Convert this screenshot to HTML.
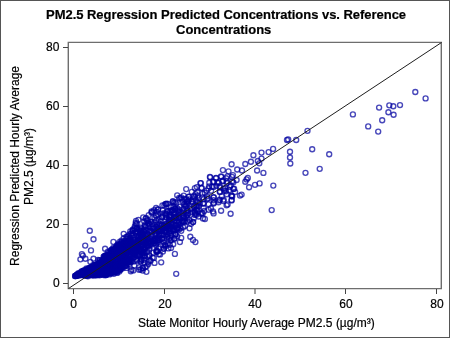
<!DOCTYPE html>
<html><head><meta charset="utf-8"><style>
html,body{margin:0;padding:0;background:#fff;}
body{width:450px;height:338px;overflow:hidden;position:relative;font-family:"Liberation Sans",sans-serif;}
.t{position:absolute;white-space:nowrap;color:#000;will-change:transform;-webkit-text-stroke:0.2px #000;}
</style></head><body>
<svg width="450" height="338" viewBox="0 0 450 338" style="position:absolute;left:0;top:0">
<rect x="0.5" y="0.5" width="449" height="337" fill="#fff" stroke="#555" stroke-width="1"/>
<path d="M68.3 42.4H441.3V288.6H68.3Z" fill="none" stroke="#6e6e6e" stroke-width="1.4"/>
<path d="M63 47.5H68M63 106.5H68M63 165.5H68M63 224.5H68M63 283.5H68" stroke="#444" stroke-width="1"/>
<path d="M73.5 289V294M164.5 289V294M255 289V294M345.5 289V294M436.5 289V294" stroke="#444" stroke-width="1"/>
<!--PTS--><g fill="none" stroke="#0000a0" stroke-width="1.35" stroke-opacity="0.72"><circle cx="75.1" cy="276.0" r="2.5"/><circle cx="75.1" cy="276.0" r="2.5"/><circle cx="75.9" cy="276.0" r="2.5"/><circle cx="76.8" cy="275.5" r="2.5"/><circle cx="76.5" cy="275.5" r="2.5"/><circle cx="76.5" cy="275.5" r="2.5"/><circle cx="76.2" cy="275.5" r="2.5"/><circle cx="77.5" cy="274.8" r="2.5"/><circle cx="77.1" cy="275.4" r="2.5"/><circle cx="77.4" cy="274.6" r="2.5"/><circle cx="77.7" cy="274.7" r="2.5"/><circle cx="77.9" cy="274.7" r="2.5"/><circle cx="77.0" cy="274.7" r="2.5"/><circle cx="78.2" cy="275.5" r="2.5"/><circle cx="78.5" cy="274.9" r="2.5"/><circle cx="78.1" cy="273.5" r="2.5"/><circle cx="78.8" cy="274.7" r="2.5"/><circle cx="78.3" cy="274.1" r="2.5"/><circle cx="79.1" cy="274.9" r="2.5"/><circle cx="79.2" cy="273.1" r="2.5"/><circle cx="79.6" cy="275.3" r="2.5"/><circle cx="80.3" cy="274.7" r="2.5"/><circle cx="80.5" cy="275.1" r="2.5"/><circle cx="80.2" cy="273.4" r="2.5"/><circle cx="81.4" cy="272.8" r="2.5"/><circle cx="81.8" cy="274.6" r="2.5"/><circle cx="81.5" cy="274.3" r="2.5"/><circle cx="81.7" cy="274.8" r="2.5"/><circle cx="81.9" cy="272.5" r="2.5"/><circle cx="81.6" cy="272.5" r="2.5"/><circle cx="81.4" cy="274.8" r="2.5"/><circle cx="81.4" cy="271.4" r="2.5"/><circle cx="82.0" cy="271.3" r="2.5"/><circle cx="82.5" cy="271.8" r="2.5"/><circle cx="82.6" cy="272.4" r="2.5"/><circle cx="82.0" cy="271.9" r="2.5"/><circle cx="82.6" cy="274.1" r="2.5"/><circle cx="82.3" cy="274.1" r="2.5"/><circle cx="83.6" cy="275.4" r="2.5"/><circle cx="83.9" cy="274.2" r="2.5"/><circle cx="83.1" cy="274.7" r="2.5"/><circle cx="83.7" cy="271.6" r="2.5"/><circle cx="83.5" cy="271.2" r="2.5"/><circle cx="83.8" cy="270.6" r="2.5"/><circle cx="83.8" cy="270.5" r="2.5"/><circle cx="84.7" cy="271.9" r="2.5"/><circle cx="84.8" cy="272.6" r="2.5"/><circle cx="84.6" cy="273.9" r="2.5"/><circle cx="84.5" cy="271.8" r="2.5"/><circle cx="85.0" cy="270.9" r="2.5"/><circle cx="84.3" cy="273.3" r="2.5"/><circle cx="84.0" cy="271.2" r="2.5"/><circle cx="84.8" cy="274.4" r="2.5"/><circle cx="84.3" cy="273.3" r="2.5"/><circle cx="84.3" cy="274.3" r="2.5"/><circle cx="85.6" cy="274.5" r="2.5"/><circle cx="85.7" cy="274.4" r="2.5"/><circle cx="85.5" cy="274.9" r="2.5"/><circle cx="85.1" cy="274.9" r="2.5"/><circle cx="85.4" cy="270.5" r="2.5"/><circle cx="85.6" cy="272.5" r="2.5"/><circle cx="85.4" cy="274.7" r="2.5"/><circle cx="85.1" cy="273.4" r="2.5"/><circle cx="85.4" cy="272.9" r="2.5"/><circle cx="85.5" cy="275.2" r="2.5"/><circle cx="86.5" cy="275.4" r="2.5"/><circle cx="86.0" cy="275.5" r="2.5"/><circle cx="86.4" cy="268.3" r="2.5"/><circle cx="87.4" cy="272.3" r="2.5"/><circle cx="87.1" cy="269.3" r="2.5"/><circle cx="87.2" cy="271.5" r="2.5"/><circle cx="87.7" cy="273.0" r="2.5"/><circle cx="87.0" cy="269.2" r="2.5"/><circle cx="87.5" cy="274.7" r="2.5"/><circle cx="87.9" cy="271.4" r="2.5"/><circle cx="87.9" cy="275.1" r="2.5"/><circle cx="87.4" cy="273.9" r="2.5"/><circle cx="87.4" cy="270.0" r="2.5"/><circle cx="87.6" cy="269.5" r="2.5"/><circle cx="87.1" cy="275.5" r="2.5"/><circle cx="87.9" cy="276.2" r="2.5"/><circle cx="87.6" cy="273.0" r="2.5"/><circle cx="88.2" cy="275.1" r="2.5"/><circle cx="88.5" cy="270.8" r="2.5"/><circle cx="88.2" cy="272.7" r="2.5"/><circle cx="88.4" cy="269.4" r="2.5"/><circle cx="88.0" cy="271.2" r="2.5"/><circle cx="88.6" cy="272.1" r="2.5"/><circle cx="88.9" cy="274.9" r="2.5"/><circle cx="88.9" cy="274.1" r="2.5"/><circle cx="88.5" cy="272.2" r="2.5"/><circle cx="88.4" cy="271.3" r="2.5"/><circle cx="89.0" cy="271.5" r="2.5"/><circle cx="89.7" cy="271.3" r="2.5"/><circle cx="89.4" cy="273.0" r="2.5"/><circle cx="89.2" cy="268.0" r="2.5"/><circle cx="89.6" cy="272.0" r="2.5"/><circle cx="89.9" cy="271.1" r="2.5"/><circle cx="89.8" cy="268.1" r="2.5"/><circle cx="89.0" cy="272.5" r="2.5"/><circle cx="89.2" cy="268.5" r="2.5"/><circle cx="89.1" cy="270.8" r="2.5"/><circle cx="89.3" cy="272.2" r="2.5"/><circle cx="89.9" cy="270.7" r="2.5"/><circle cx="89.2" cy="272.3" r="2.5"/><circle cx="90.4" cy="267.9" r="2.5"/><circle cx="90.6" cy="272.5" r="2.5"/><circle cx="90.7" cy="275.2" r="2.5"/><circle cx="90.4" cy="272.8" r="2.5"/><circle cx="90.4" cy="269.2" r="2.5"/><circle cx="90.9" cy="273.5" r="2.5"/><circle cx="90.9" cy="274.1" r="2.5"/><circle cx="90.9" cy="268.5" r="2.5"/><circle cx="90.0" cy="269.1" r="2.5"/><circle cx="90.4" cy="270.3" r="2.5"/><circle cx="91.7" cy="267.3" r="2.5"/><circle cx="91.2" cy="273.1" r="2.5"/><circle cx="91.7" cy="270.4" r="2.5"/><circle cx="91.3" cy="274.1" r="2.5"/><circle cx="91.3" cy="267.1" r="2.5"/><circle cx="91.2" cy="267.0" r="2.5"/><circle cx="91.8" cy="267.9" r="2.5"/><circle cx="92.0" cy="268.7" r="2.5"/><circle cx="91.3" cy="271.9" r="2.5"/><circle cx="91.3" cy="270.1" r="2.5"/><circle cx="91.1" cy="270.2" r="2.5"/><circle cx="91.0" cy="268.8" r="2.5"/><circle cx="91.9" cy="269.3" r="2.5"/><circle cx="91.3" cy="272.8" r="2.5"/><circle cx="91.4" cy="272.7" r="2.5"/><circle cx="92.2" cy="267.9" r="2.5"/><circle cx="92.8" cy="272.8" r="2.5"/><circle cx="92.9" cy="273.5" r="2.5"/><circle cx="92.4" cy="267.5" r="2.5"/><circle cx="92.9" cy="272.7" r="2.5"/><circle cx="92.6" cy="272.6" r="2.5"/><circle cx="92.4" cy="269.4" r="2.5"/><circle cx="92.6" cy="270.7" r="2.5"/><circle cx="92.7" cy="275.0" r="2.5"/><circle cx="92.8" cy="269.9" r="2.5"/><circle cx="92.4" cy="274.9" r="2.5"/><circle cx="92.4" cy="273.7" r="2.5"/><circle cx="92.1" cy="270.4" r="2.5"/><circle cx="92.5" cy="273.8" r="2.5"/><circle cx="92.9" cy="267.7" r="2.5"/><circle cx="92.8" cy="270.3" r="2.5"/><circle cx="93.0" cy="265.1" r="2.5"/><circle cx="93.6" cy="271.7" r="2.5"/><circle cx="93.5" cy="268.9" r="2.5"/><circle cx="93.5" cy="269.3" r="2.5"/><circle cx="93.9" cy="270.2" r="2.5"/><circle cx="93.5" cy="268.2" r="2.5"/><circle cx="93.3" cy="275.1" r="2.5"/><circle cx="93.3" cy="274.2" r="2.5"/><circle cx="93.6" cy="275.4" r="2.5"/><circle cx="93.2" cy="275.0" r="2.5"/><circle cx="93.8" cy="271.3" r="2.5"/><circle cx="93.7" cy="272.8" r="2.5"/><circle cx="93.4" cy="271.9" r="2.5"/><circle cx="94.3" cy="273.6" r="2.5"/><circle cx="95.0" cy="274.5" r="2.5"/><circle cx="95.0" cy="266.7" r="2.5"/><circle cx="94.2" cy="267.4" r="2.5"/><circle cx="94.4" cy="266.3" r="2.5"/><circle cx="94.2" cy="265.2" r="2.5"/><circle cx="94.9" cy="268.8" r="2.5"/><circle cx="94.6" cy="269.8" r="2.5"/><circle cx="94.7" cy="273.5" r="2.5"/><circle cx="94.4" cy="270.7" r="2.5"/><circle cx="94.1" cy="268.0" r="2.5"/><circle cx="94.2" cy="268.3" r="2.5"/><circle cx="94.3" cy="266.2" r="2.5"/><circle cx="95.0" cy="265.1" r="2.5"/><circle cx="95.9" cy="271.5" r="2.5"/><circle cx="95.7" cy="275.1" r="2.5"/><circle cx="95.2" cy="274.7" r="2.5"/><circle cx="95.2" cy="270.2" r="2.5"/><circle cx="95.7" cy="273.3" r="2.5"/><circle cx="95.2" cy="269.7" r="2.5"/><circle cx="95.0" cy="267.6" r="2.5"/><circle cx="96.0" cy="274.5" r="2.5"/><circle cx="95.6" cy="273.2" r="2.5"/><circle cx="95.9" cy="268.1" r="2.5"/><circle cx="96.0" cy="269.4" r="2.5"/><circle cx="95.2" cy="270.3" r="2.5"/><circle cx="95.6" cy="272.1" r="2.5"/><circle cx="95.7" cy="264.9" r="2.5"/><circle cx="95.6" cy="274.7" r="2.5"/><circle cx="95.7" cy="275.3" r="2.5"/><circle cx="95.9" cy="267.5" r="2.5"/><circle cx="95.9" cy="265.7" r="2.5"/><circle cx="97.0" cy="264.9" r="2.5"/><circle cx="96.1" cy="270.3" r="2.5"/><circle cx="97.0" cy="271.9" r="2.5"/><circle cx="96.3" cy="265.1" r="2.5"/><circle cx="96.4" cy="269.5" r="2.5"/><circle cx="96.5" cy="271.1" r="2.5"/><circle cx="96.3" cy="274.2" r="2.5"/><circle cx="96.3" cy="265.1" r="2.5"/><circle cx="96.3" cy="274.8" r="2.5"/><circle cx="96.2" cy="267.1" r="2.5"/><circle cx="96.9" cy="267.9" r="2.5"/><circle cx="96.8" cy="264.4" r="2.5"/><circle cx="96.9" cy="266.6" r="2.5"/><circle cx="96.2" cy="272.5" r="2.5"/><circle cx="97.0" cy="275.1" r="2.5"/><circle cx="96.8" cy="274.5" r="2.5"/><circle cx="96.8" cy="266.5" r="2.5"/><circle cx="96.3" cy="268.3" r="2.5"/><circle cx="97.3" cy="270.6" r="2.5"/><circle cx="97.7" cy="275.0" r="2.5"/><circle cx="97.8" cy="274.8" r="2.5"/><circle cx="97.6" cy="272.3" r="2.5"/><circle cx="97.1" cy="272.4" r="2.5"/><circle cx="98.6" cy="268.4" r="2.5"/><circle cx="98.1" cy="266.0" r="2.5"/><circle cx="98.3" cy="267.1" r="2.5"/><circle cx="98.7" cy="264.8" r="2.5"/><circle cx="98.4" cy="270.5" r="2.5"/><circle cx="98.9" cy="264.1" r="2.5"/><circle cx="98.1" cy="265.1" r="2.5"/><circle cx="98.2" cy="264.7" r="2.5"/><circle cx="98.1" cy="265.4" r="2.5"/><circle cx="98.2" cy="268.8" r="2.5"/><circle cx="98.6" cy="267.3" r="2.5"/><circle cx="98.2" cy="263.9" r="2.5"/><circle cx="98.3" cy="264.9" r="2.5"/><circle cx="98.5" cy="273.9" r="2.5"/><circle cx="98.0" cy="259.9" r="2.5"/><circle cx="99.7" cy="263.2" r="2.5"/><circle cx="99.3" cy="271.3" r="2.5"/><circle cx="99.6" cy="269.0" r="2.5"/><circle cx="99.9" cy="263.6" r="2.5"/><circle cx="99.2" cy="269.7" r="2.5"/><circle cx="99.6" cy="275.3" r="2.5"/><circle cx="100.0" cy="270.0" r="2.5"/><circle cx="99.8" cy="271.5" r="2.5"/><circle cx="99.1" cy="270.2" r="2.5"/><circle cx="99.3" cy="266.9" r="2.5"/><circle cx="99.2" cy="262.2" r="2.5"/><circle cx="99.9" cy="271.7" r="2.5"/><circle cx="99.8" cy="265.9" r="2.5"/><circle cx="99.4" cy="264.4" r="2.5"/><circle cx="99.7" cy="260.4" r="2.5"/><circle cx="99.5" cy="260.1" r="2.5"/><circle cx="99.5" cy="268.1" r="2.5"/><circle cx="99.3" cy="264.5" r="2.5"/><circle cx="100.4" cy="263.0" r="2.5"/><circle cx="100.3" cy="273.4" r="2.5"/><circle cx="101.0" cy="266.7" r="2.5"/><circle cx="100.9" cy="273.8" r="2.5"/><circle cx="100.2" cy="265.3" r="2.5"/><circle cx="100.7" cy="265.8" r="2.5"/><circle cx="101.0" cy="266.6" r="2.5"/><circle cx="100.7" cy="271.4" r="2.5"/><circle cx="100.2" cy="273.7" r="2.5"/><circle cx="100.3" cy="263.0" r="2.5"/><circle cx="100.1" cy="267.8" r="2.5"/><circle cx="100.6" cy="265.3" r="2.5"/><circle cx="100.8" cy="265.2" r="2.5"/><circle cx="100.8" cy="261.9" r="2.5"/><circle cx="100.3" cy="263.7" r="2.5"/><circle cx="100.4" cy="266.4" r="2.5"/><circle cx="100.4" cy="273.5" r="2.5"/><circle cx="100.6" cy="270.0" r="2.5"/><circle cx="100.7" cy="274.9" r="2.5"/><circle cx="100.6" cy="265.8" r="2.5"/><circle cx="101.9" cy="264.1" r="2.5"/><circle cx="101.8" cy="268.5" r="2.5"/><circle cx="101.2" cy="266.0" r="2.5"/><circle cx="101.1" cy="270.5" r="2.5"/><circle cx="101.7" cy="260.8" r="2.5"/><circle cx="101.3" cy="272.0" r="2.5"/><circle cx="101.2" cy="268.5" r="2.5"/><circle cx="101.8" cy="269.0" r="2.5"/><circle cx="101.1" cy="274.1" r="2.5"/><circle cx="101.7" cy="268.9" r="2.5"/><circle cx="101.3" cy="269.1" r="2.5"/><circle cx="101.4" cy="262.1" r="2.5"/><circle cx="102.2" cy="269.5" r="2.5"/><circle cx="102.6" cy="268.8" r="2.5"/><circle cx="102.8" cy="260.8" r="2.5"/><circle cx="102.4" cy="260.5" r="2.5"/><circle cx="102.4" cy="260.5" r="2.5"/><circle cx="102.1" cy="260.9" r="2.5"/><circle cx="102.7" cy="260.5" r="2.5"/><circle cx="102.3" cy="265.5" r="2.5"/><circle cx="103.6" cy="272.3" r="2.5"/><circle cx="103.1" cy="271.8" r="2.5"/><circle cx="103.6" cy="268.0" r="2.5"/><circle cx="103.1" cy="273.2" r="2.5"/><circle cx="103.3" cy="267.5" r="2.5"/><circle cx="103.5" cy="273.7" r="2.5"/><circle cx="103.6" cy="275.1" r="2.5"/><circle cx="103.2" cy="269.5" r="2.5"/><circle cx="103.6" cy="266.9" r="2.5"/><circle cx="103.6" cy="256.6" r="2.5"/><circle cx="103.5" cy="264.6" r="2.5"/><circle cx="104.7" cy="259.3" r="2.5"/><circle cx="104.3" cy="258.2" r="2.5"/><circle cx="104.6" cy="258.5" r="2.5"/><circle cx="104.2" cy="265.2" r="2.5"/><circle cx="104.5" cy="257.6" r="2.5"/><circle cx="104.9" cy="261.2" r="2.5"/><circle cx="104.6" cy="261.1" r="2.5"/><circle cx="104.6" cy="263.4" r="2.5"/><circle cx="104.3" cy="265.6" r="2.5"/><circle cx="104.6" cy="267.9" r="2.5"/><circle cx="104.7" cy="261.9" r="2.5"/><circle cx="104.1" cy="261.6" r="2.5"/><circle cx="104.3" cy="256.1" r="2.5"/><circle cx="104.6" cy="256.3" r="2.5"/><circle cx="105.6" cy="259.0" r="2.5"/><circle cx="105.4" cy="273.9" r="2.5"/><circle cx="105.1" cy="268.9" r="2.5"/><circle cx="105.4" cy="267.7" r="2.5"/><circle cx="105.4" cy="258.3" r="2.5"/><circle cx="105.6" cy="256.1" r="2.5"/><circle cx="105.9" cy="271.2" r="2.5"/><circle cx="105.4" cy="266.2" r="2.5"/><circle cx="105.5" cy="274.7" r="2.5"/><circle cx="105.0" cy="261.6" r="2.5"/><circle cx="105.4" cy="271.0" r="2.5"/><circle cx="105.7" cy="264.0" r="2.5"/><circle cx="105.0" cy="268.3" r="2.5"/><circle cx="105.4" cy="258.2" r="2.5"/><circle cx="105.6" cy="264.4" r="2.5"/><circle cx="105.3" cy="261.1" r="2.5"/><circle cx="105.4" cy="275.2" r="2.5"/><circle cx="106.5" cy="273.3" r="2.5"/><circle cx="106.9" cy="268.5" r="2.5"/><circle cx="106.9" cy="270.1" r="2.5"/><circle cx="106.7" cy="263.5" r="2.5"/><circle cx="106.1" cy="269.6" r="2.5"/><circle cx="106.6" cy="274.3" r="2.5"/><circle cx="106.3" cy="272.5" r="2.5"/><circle cx="106.2" cy="273.9" r="2.5"/><circle cx="107.0" cy="255.8" r="2.5"/><circle cx="106.3" cy="274.9" r="2.5"/><circle cx="107.0" cy="268.3" r="2.5"/><circle cx="106.1" cy="255.0" r="2.5"/><circle cx="106.2" cy="273.8" r="2.5"/><circle cx="106.8" cy="263.5" r="2.5"/><circle cx="106.8" cy="273.0" r="2.5"/><circle cx="106.3" cy="272.4" r="2.5"/><circle cx="106.0" cy="256.0" r="2.5"/><circle cx="107.5" cy="257.3" r="2.5"/><circle cx="107.7" cy="256.5" r="2.5"/><circle cx="107.2" cy="259.4" r="2.5"/><circle cx="107.6" cy="270.8" r="2.5"/><circle cx="107.8" cy="269.4" r="2.5"/><circle cx="107.7" cy="265.2" r="2.5"/><circle cx="107.3" cy="257.5" r="2.5"/><circle cx="107.9" cy="262.4" r="2.5"/><circle cx="107.7" cy="255.2" r="2.5"/><circle cx="107.4" cy="255.9" r="2.5"/><circle cx="107.4" cy="269.2" r="2.5"/><circle cx="107.3" cy="268.1" r="2.5"/><circle cx="107.1" cy="261.9" r="2.5"/><circle cx="107.4" cy="264.5" r="2.5"/><circle cx="107.2" cy="268.5" r="2.5"/><circle cx="107.9" cy="270.9" r="2.5"/><circle cx="107.0" cy="264.0" r="2.5"/><circle cx="107.7" cy="261.7" r="2.5"/><circle cx="107.9" cy="251.6" r="2.5"/><circle cx="108.8" cy="269.4" r="2.5"/><circle cx="108.2" cy="259.5" r="2.5"/><circle cx="108.7" cy="261.9" r="2.5"/><circle cx="108.3" cy="273.2" r="2.5"/><circle cx="108.8" cy="260.5" r="2.5"/><circle cx="108.5" cy="273.2" r="2.5"/><circle cx="108.2" cy="272.7" r="2.5"/><circle cx="108.9" cy="268.7" r="2.5"/><circle cx="108.7" cy="267.8" r="2.5"/><circle cx="108.5" cy="265.5" r="2.5"/><circle cx="108.2" cy="265.1" r="2.5"/><circle cx="108.7" cy="263.4" r="2.5"/><circle cx="108.7" cy="262.8" r="2.5"/><circle cx="108.8" cy="268.6" r="2.5"/><circle cx="108.1" cy="269.7" r="2.5"/><circle cx="108.1" cy="258.8" r="2.5"/><circle cx="109.2" cy="269.3" r="2.5"/><circle cx="109.4" cy="271.7" r="2.5"/><circle cx="109.2" cy="267.5" r="2.5"/><circle cx="109.4" cy="271.2" r="2.5"/><circle cx="109.6" cy="267.2" r="2.5"/><circle cx="109.1" cy="268.9" r="2.5"/><circle cx="109.4" cy="268.6" r="2.5"/><circle cx="109.8" cy="254.4" r="2.5"/><circle cx="109.0" cy="269.1" r="2.5"/><circle cx="110.0" cy="272.3" r="2.5"/><circle cx="109.4" cy="270.8" r="2.5"/><circle cx="109.0" cy="252.9" r="2.5"/><circle cx="109.6" cy="263.7" r="2.5"/><circle cx="109.8" cy="256.9" r="2.5"/><circle cx="109.5" cy="274.4" r="2.5"/><circle cx="109.3" cy="260.9" r="2.5"/><circle cx="109.4" cy="260.2" r="2.5"/><circle cx="109.3" cy="262.0" r="2.5"/><circle cx="109.6" cy="260.0" r="2.5"/><circle cx="110.9" cy="264.0" r="2.5"/><circle cx="110.4" cy="273.6" r="2.5"/><circle cx="110.2" cy="251.5" r="2.5"/><circle cx="110.9" cy="256.9" r="2.5"/><circle cx="110.2" cy="259.7" r="2.5"/><circle cx="110.3" cy="259.0" r="2.5"/><circle cx="110.9" cy="257.4" r="2.5"/><circle cx="110.1" cy="255.6" r="2.5"/><circle cx="110.9" cy="260.8" r="2.5"/><circle cx="110.4" cy="269.2" r="2.5"/><circle cx="110.9" cy="262.7" r="2.5"/><circle cx="110.8" cy="256.8" r="2.5"/><circle cx="110.4" cy="264.3" r="2.5"/><circle cx="110.2" cy="257.1" r="2.5"/><circle cx="110.2" cy="256.8" r="2.5"/><circle cx="110.8" cy="269.6" r="2.5"/><circle cx="110.7" cy="272.6" r="2.5"/><circle cx="111.2" cy="268.9" r="2.5"/><circle cx="111.8" cy="259.6" r="2.5"/><circle cx="111.2" cy="250.4" r="2.5"/><circle cx="111.6" cy="265.2" r="2.5"/><circle cx="111.0" cy="262.4" r="2.5"/><circle cx="111.9" cy="250.3" r="2.5"/><circle cx="111.1" cy="251.0" r="2.5"/><circle cx="111.4" cy="259.1" r="2.5"/><circle cx="111.9" cy="251.2" r="2.5"/><circle cx="111.2" cy="272.8" r="2.5"/><circle cx="111.0" cy="256.0" r="2.5"/><circle cx="111.4" cy="249.6" r="2.5"/><circle cx="111.3" cy="264.5" r="2.5"/><circle cx="111.6" cy="264.6" r="2.5"/><circle cx="111.7" cy="264.8" r="2.5"/><circle cx="111.0" cy="265.8" r="2.5"/><circle cx="111.2" cy="272.5" r="2.5"/><circle cx="111.3" cy="252.2" r="2.5"/><circle cx="112.9" cy="265.9" r="2.5"/><circle cx="112.4" cy="260.8" r="2.5"/><circle cx="112.6" cy="263.8" r="2.5"/><circle cx="112.9" cy="255.4" r="2.5"/><circle cx="112.8" cy="249.1" r="2.5"/><circle cx="112.2" cy="272.6" r="2.5"/><circle cx="112.3" cy="261.7" r="2.5"/><circle cx="112.9" cy="265.3" r="2.5"/><circle cx="112.5" cy="266.5" r="2.5"/><circle cx="113.0" cy="272.6" r="2.5"/><circle cx="112.2" cy="252.2" r="2.5"/><circle cx="112.3" cy="252.4" r="2.5"/><circle cx="112.8" cy="269.8" r="2.5"/><circle cx="112.1" cy="250.6" r="2.5"/><circle cx="112.3" cy="266.1" r="2.5"/><circle cx="112.8" cy="260.4" r="2.5"/><circle cx="112.6" cy="272.0" r="2.5"/><circle cx="112.9" cy="251.7" r="2.5"/><circle cx="112.7" cy="268.4" r="2.5"/><circle cx="112.5" cy="257.4" r="2.5"/><circle cx="112.4" cy="270.3" r="2.5"/><circle cx="113.7" cy="251.5" r="2.5"/><circle cx="113.1" cy="258.1" r="2.5"/><circle cx="113.8" cy="264.7" r="2.5"/><circle cx="113.8" cy="264.0" r="2.5"/><circle cx="113.8" cy="273.7" r="2.5"/><circle cx="113.7" cy="270.2" r="2.5"/><circle cx="114.0" cy="267.1" r="2.5"/><circle cx="113.8" cy="249.9" r="2.5"/><circle cx="113.0" cy="271.8" r="2.5"/><circle cx="113.2" cy="255.8" r="2.5"/><circle cx="113.1" cy="264.3" r="2.5"/><circle cx="113.0" cy="268.6" r="2.5"/><circle cx="113.3" cy="267.1" r="2.5"/><circle cx="113.9" cy="265.8" r="2.5"/><circle cx="113.4" cy="264.1" r="2.5"/><circle cx="113.9" cy="266.3" r="2.5"/><circle cx="113.3" cy="248.0" r="2.5"/><circle cx="113.6" cy="263.4" r="2.5"/><circle cx="113.3" cy="272.4" r="2.5"/><circle cx="114.3" cy="256.0" r="2.5"/><circle cx="114.9" cy="264.4" r="2.5"/><circle cx="114.1" cy="257.4" r="2.5"/><circle cx="114.1" cy="265.7" r="2.5"/><circle cx="114.9" cy="249.4" r="2.5"/><circle cx="114.5" cy="253.5" r="2.5"/><circle cx="114.3" cy="266.8" r="2.5"/><circle cx="115.0" cy="254.4" r="2.5"/><circle cx="114.5" cy="255.2" r="2.5"/><circle cx="114.1" cy="263.0" r="2.5"/><circle cx="114.2" cy="265.2" r="2.5"/><circle cx="114.7" cy="250.7" r="2.5"/><circle cx="114.7" cy="264.7" r="2.5"/><circle cx="114.6" cy="251.2" r="2.5"/><circle cx="114.8" cy="255.5" r="2.5"/><circle cx="115.4" cy="265.5" r="2.5"/><circle cx="115.3" cy="266.9" r="2.5"/><circle cx="115.4" cy="266.2" r="2.5"/><circle cx="115.7" cy="271.8" r="2.5"/><circle cx="115.4" cy="255.6" r="2.5"/><circle cx="116.0" cy="260.1" r="2.5"/><circle cx="115.4" cy="265.2" r="2.5"/><circle cx="115.3" cy="272.1" r="2.5"/><circle cx="115.8" cy="263.7" r="2.5"/><circle cx="115.3" cy="268.1" r="2.5"/><circle cx="115.9" cy="267.6" r="2.5"/><circle cx="115.9" cy="248.6" r="2.5"/><circle cx="115.7" cy="269.7" r="2.5"/><circle cx="115.5" cy="248.3" r="2.5"/><circle cx="115.5" cy="252.7" r="2.5"/><circle cx="115.0" cy="271.6" r="2.5"/><circle cx="115.8" cy="263.3" r="2.5"/><circle cx="115.7" cy="264.4" r="2.5"/><circle cx="115.3" cy="259.7" r="2.5"/><circle cx="116.1" cy="254.7" r="2.5"/><circle cx="116.2" cy="271.1" r="2.5"/><circle cx="116.2" cy="256.2" r="2.5"/><circle cx="116.5" cy="252.2" r="2.5"/><circle cx="116.5" cy="260.6" r="2.5"/><circle cx="116.0" cy="271.6" r="2.5"/><circle cx="116.5" cy="249.3" r="2.5"/><circle cx="117.0" cy="249.9" r="2.5"/><circle cx="116.7" cy="258.6" r="2.5"/><circle cx="116.3" cy="255.8" r="2.5"/><circle cx="116.5" cy="255.5" r="2.5"/><circle cx="116.2" cy="256.8" r="2.5"/><circle cx="116.4" cy="264.4" r="2.5"/><circle cx="116.2" cy="246.5" r="2.5"/><circle cx="116.8" cy="247.1" r="2.5"/><circle cx="116.1" cy="248.1" r="2.5"/><circle cx="116.7" cy="247.9" r="2.5"/><circle cx="116.6" cy="264.6" r="2.5"/><circle cx="116.1" cy="268.4" r="2.5"/><circle cx="117.4" cy="270.2" r="2.5"/><circle cx="117.3" cy="245.8" r="2.5"/><circle cx="117.1" cy="260.1" r="2.5"/><circle cx="117.8" cy="265.9" r="2.5"/><circle cx="117.5" cy="251.1" r="2.5"/><circle cx="117.1" cy="250.7" r="2.5"/><circle cx="117.2" cy="270.2" r="2.5"/><circle cx="117.4" cy="247.6" r="2.5"/><circle cx="117.6" cy="257.3" r="2.5"/><circle cx="117.0" cy="272.2" r="2.5"/><circle cx="117.9" cy="251.8" r="2.5"/><circle cx="117.8" cy="257.3" r="2.5"/><circle cx="117.7" cy="262.9" r="2.5"/><circle cx="117.7" cy="256.9" r="2.5"/><circle cx="117.1" cy="267.2" r="2.5"/><circle cx="117.6" cy="244.3" r="2.5"/><circle cx="117.1" cy="250.0" r="2.5"/><circle cx="117.3" cy="256.4" r="2.5"/><circle cx="117.2" cy="272.9" r="2.5"/><circle cx="117.4" cy="254.3" r="2.5"/><circle cx="118.8" cy="270.1" r="2.5"/><circle cx="118.7" cy="252.3" r="2.5"/><circle cx="119.0" cy="244.2" r="2.5"/><circle cx="118.9" cy="255.7" r="2.5"/><circle cx="118.3" cy="257.3" r="2.5"/><circle cx="118.4" cy="268.5" r="2.5"/><circle cx="118.8" cy="265.2" r="2.5"/><circle cx="118.2" cy="256.3" r="2.5"/><circle cx="118.1" cy="265.1" r="2.5"/><circle cx="118.0" cy="255.0" r="2.5"/><circle cx="118.2" cy="268.2" r="2.5"/><circle cx="118.9" cy="251.9" r="2.5"/><circle cx="118.9" cy="248.6" r="2.5"/><circle cx="118.7" cy="250.7" r="2.5"/><circle cx="118.4" cy="261.2" r="2.5"/><circle cx="118.4" cy="249.2" r="2.5"/><circle cx="118.6" cy="266.6" r="2.5"/><circle cx="119.0" cy="252.8" r="2.5"/><circle cx="118.3" cy="245.7" r="2.5"/><circle cx="118.2" cy="265.4" r="2.5"/><circle cx="119.3" cy="249.1" r="2.5"/><circle cx="119.5" cy="255.2" r="2.5"/><circle cx="119.4" cy="245.9" r="2.5"/><circle cx="119.6" cy="268.9" r="2.5"/><circle cx="119.0" cy="244.8" r="2.5"/><circle cx="119.6" cy="251.8" r="2.5"/><circle cx="119.3" cy="271.4" r="2.5"/><circle cx="119.3" cy="269.4" r="2.5"/><circle cx="119.3" cy="242.1" r="2.5"/><circle cx="120.0" cy="249.5" r="2.5"/><circle cx="120.2" cy="269.9" r="2.5"/><circle cx="120.8" cy="269.1" r="2.5"/><circle cx="120.6" cy="265.6" r="2.5"/><circle cx="120.7" cy="250.0" r="2.5"/><circle cx="120.2" cy="269.1" r="2.5"/><circle cx="120.5" cy="244.7" r="2.5"/><circle cx="120.3" cy="248.5" r="2.5"/><circle cx="120.9" cy="255.4" r="2.5"/><circle cx="121.9" cy="267.6" r="2.5"/><circle cx="121.6" cy="263.7" r="2.5"/><circle cx="121.3" cy="243.9" r="2.5"/><circle cx="121.6" cy="242.1" r="2.5"/><circle cx="121.5" cy="258.8" r="2.5"/><circle cx="121.8" cy="267.0" r="2.5"/><circle cx="121.2" cy="266.1" r="2.5"/><circle cx="121.5" cy="258.9" r="2.5"/><circle cx="121.5" cy="265.5" r="2.5"/><circle cx="121.3" cy="240.7" r="2.5"/><circle cx="121.8" cy="260.0" r="2.5"/><circle cx="121.7" cy="244.1" r="2.5"/><circle cx="121.2" cy="259.0" r="2.5"/><circle cx="121.7" cy="260.0" r="2.5"/><circle cx="121.6" cy="259.8" r="2.5"/><circle cx="121.1" cy="253.8" r="2.5"/><circle cx="121.3" cy="262.2" r="2.5"/><circle cx="121.5" cy="261.8" r="2.5"/><circle cx="121.7" cy="251.2" r="2.5"/><circle cx="121.1" cy="255.0" r="2.5"/><circle cx="121.8" cy="266.7" r="2.5"/><circle cx="122.7" cy="268.3" r="2.5"/><circle cx="122.1" cy="242.1" r="2.5"/><circle cx="122.7" cy="257.8" r="2.5"/><circle cx="122.8" cy="245.4" r="2.5"/><circle cx="122.5" cy="263.3" r="2.5"/><circle cx="122.4" cy="251.3" r="2.5"/><circle cx="123.4" cy="258.1" r="2.5"/><circle cx="123.9" cy="264.4" r="2.5"/><circle cx="123.3" cy="256.7" r="2.5"/><circle cx="123.4" cy="263.6" r="2.5"/><circle cx="123.8" cy="258.3" r="2.5"/><circle cx="123.8" cy="253.7" r="2.5"/><circle cx="123.6" cy="243.3" r="2.5"/><circle cx="123.7" cy="247.1" r="2.5"/><circle cx="123.6" cy="238.5" r="2.5"/><circle cx="123.4" cy="256.9" r="2.5"/><circle cx="123.6" cy="255.3" r="2.5"/><circle cx="123.3" cy="258.0" r="2.5"/><circle cx="123.7" cy="256.1" r="2.5"/><circle cx="123.4" cy="243.0" r="2.5"/><circle cx="123.9" cy="249.0" r="2.5"/><circle cx="124.1" cy="264.1" r="2.5"/><circle cx="125.0" cy="262.2" r="2.5"/><circle cx="124.6" cy="265.8" r="2.5"/><circle cx="124.3" cy="251.4" r="2.5"/><circle cx="124.2" cy="250.2" r="2.5"/><circle cx="124.9" cy="257.4" r="2.5"/><circle cx="124.5" cy="253.6" r="2.5"/><circle cx="124.6" cy="255.8" r="2.5"/><circle cx="124.4" cy="260.8" r="2.5"/><circle cx="124.2" cy="245.3" r="2.5"/><circle cx="125.2" cy="261.3" r="2.5"/><circle cx="125.1" cy="245.8" r="2.5"/><circle cx="125.9" cy="249.1" r="2.5"/><circle cx="125.8" cy="259.7" r="2.5"/><circle cx="125.0" cy="243.3" r="2.5"/><circle cx="125.9" cy="246.4" r="2.5"/><circle cx="125.4" cy="264.8" r="2.5"/><circle cx="125.1" cy="265.9" r="2.5"/><circle cx="125.6" cy="255.6" r="2.5"/><circle cx="125.0" cy="255.7" r="2.5"/><circle cx="125.8" cy="248.6" r="2.5"/><circle cx="125.1" cy="240.7" r="2.5"/><circle cx="125.1" cy="249.2" r="2.5"/><circle cx="125.4" cy="248.8" r="2.5"/><circle cx="125.5" cy="254.3" r="2.5"/><circle cx="126.2" cy="244.7" r="2.5"/><circle cx="126.3" cy="265.6" r="2.5"/><circle cx="126.6" cy="241.8" r="2.5"/><circle cx="126.4" cy="249.0" r="2.5"/><circle cx="126.1" cy="250.1" r="2.5"/><circle cx="126.5" cy="263.2" r="2.5"/><circle cx="126.4" cy="256.6" r="2.5"/><circle cx="126.7" cy="241.3" r="2.5"/><circle cx="126.6" cy="249.5" r="2.5"/><circle cx="126.2" cy="236.8" r="2.5"/><circle cx="127.0" cy="238.8" r="2.5"/><circle cx="126.4" cy="266.0" r="2.5"/><circle cx="126.7" cy="248.3" r="2.5"/><circle cx="126.7" cy="261.8" r="2.5"/><circle cx="126.2" cy="260.9" r="2.5"/><circle cx="127.8" cy="242.0" r="2.5"/><circle cx="127.3" cy="259.9" r="2.5"/><circle cx="127.1" cy="243.7" r="2.5"/><circle cx="127.3" cy="236.8" r="2.5"/><circle cx="127.7" cy="244.9" r="2.5"/><circle cx="127.4" cy="245.3" r="2.5"/><circle cx="127.1" cy="260.5" r="2.5"/><circle cx="127.1" cy="243.9" r="2.5"/><circle cx="127.7" cy="245.7" r="2.5"/><circle cx="127.5" cy="245.2" r="2.5"/><circle cx="127.6" cy="244.8" r="2.5"/><circle cx="127.0" cy="251.0" r="2.5"/><circle cx="128.9" cy="261.8" r="2.5"/><circle cx="128.2" cy="257.1" r="2.5"/><circle cx="128.3" cy="242.7" r="2.5"/><circle cx="129.0" cy="261.0" r="2.5"/><circle cx="128.8" cy="247.6" r="2.5"/><circle cx="129.0" cy="251.6" r="2.5"/><circle cx="129.0" cy="256.1" r="2.5"/><circle cx="128.0" cy="258.4" r="2.5"/><circle cx="128.8" cy="260.8" r="2.5"/><circle cx="128.6" cy="235.8" r="2.5"/><circle cx="128.9" cy="247.2" r="2.5"/><circle cx="128.2" cy="240.8" r="2.5"/><circle cx="128.2" cy="258.9" r="2.5"/><circle cx="128.1" cy="261.9" r="2.5"/><circle cx="128.2" cy="250.3" r="2.5"/><circle cx="129.9" cy="237.7" r="2.5"/><circle cx="129.0" cy="260.8" r="2.5"/><circle cx="129.9" cy="254.2" r="2.5"/><circle cx="129.5" cy="262.1" r="2.5"/><circle cx="129.4" cy="234.3" r="2.5"/><circle cx="129.4" cy="249.6" r="2.5"/><circle cx="129.5" cy="260.2" r="2.5"/><circle cx="129.3" cy="240.9" r="2.5"/><circle cx="129.3" cy="246.4" r="2.5"/><circle cx="129.6" cy="263.8" r="2.5"/><circle cx="129.2" cy="246.2" r="2.5"/><circle cx="130.2" cy="242.0" r="2.5"/><circle cx="130.8" cy="243.5" r="2.5"/><circle cx="130.4" cy="244.5" r="2.5"/><circle cx="130.2" cy="250.1" r="2.5"/><circle cx="130.4" cy="260.9" r="2.5"/><circle cx="130.6" cy="262.1" r="2.5"/><circle cx="130.9" cy="247.7" r="2.5"/><circle cx="130.0" cy="239.5" r="2.5"/><circle cx="130.1" cy="255.0" r="2.5"/><circle cx="130.1" cy="252.3" r="2.5"/><circle cx="130.3" cy="247.4" r="2.5"/><circle cx="130.3" cy="231.3" r="2.5"/><circle cx="130.1" cy="240.1" r="2.5"/><circle cx="130.6" cy="245.9" r="2.5"/><circle cx="130.8" cy="271.2" r="2.5"/><circle cx="130.6" cy="240.6" r="2.5"/><circle cx="131.2" cy="248.1" r="2.5"/><circle cx="131.6" cy="255.7" r="2.5"/><circle cx="131.4" cy="240.1" r="2.5"/><circle cx="131.7" cy="235.9" r="2.5"/><circle cx="131.4" cy="246.3" r="2.5"/><circle cx="131.8" cy="245.0" r="2.5"/><circle cx="131.6" cy="252.5" r="2.5"/><circle cx="131.7" cy="260.9" r="2.5"/><circle cx="131.5" cy="249.4" r="2.5"/><circle cx="131.2" cy="233.5" r="2.5"/><circle cx="132.5" cy="233.2" r="2.5"/><circle cx="132.1" cy="248.7" r="2.5"/><circle cx="132.4" cy="258.3" r="2.5"/><circle cx="132.6" cy="254.0" r="2.5"/><circle cx="132.3" cy="242.9" r="2.5"/><circle cx="132.1" cy="241.5" r="2.5"/><circle cx="132.7" cy="240.0" r="2.5"/><circle cx="132.8" cy="244.6" r="2.5"/><circle cx="132.3" cy="248.5" r="2.5"/><circle cx="132.6" cy="229.7" r="2.5"/><circle cx="132.6" cy="230.7" r="2.5"/><circle cx="133.3" cy="247.9" r="2.5"/><circle cx="133.7" cy="251.9" r="2.5"/><circle cx="133.4" cy="249.6" r="2.5"/><circle cx="133.6" cy="239.8" r="2.5"/><circle cx="133.0" cy="230.5" r="2.5"/><circle cx="133.7" cy="261.5" r="2.5"/><circle cx="133.8" cy="255.3" r="2.5"/><circle cx="133.3" cy="270.4" r="2.5"/><circle cx="134.1" cy="247.0" r="2.5"/><circle cx="134.2" cy="253.3" r="2.5"/><circle cx="134.5" cy="238.3" r="2.5"/><circle cx="134.0" cy="250.6" r="2.5"/><circle cx="134.6" cy="253.9" r="2.5"/><circle cx="134.4" cy="257.1" r="2.5"/><circle cx="134.0" cy="257.2" r="2.5"/><circle cx="134.2" cy="255.3" r="2.5"/><circle cx="134.8" cy="226.4" r="2.5"/><circle cx="134.3" cy="265.6" r="2.5"/><circle cx="134.5" cy="228.2" r="2.5"/><circle cx="135.4" cy="252.1" r="2.5"/><circle cx="135.5" cy="232.7" r="2.5"/><circle cx="135.8" cy="259.6" r="2.5"/><circle cx="135.7" cy="241.9" r="2.5"/><circle cx="135.9" cy="224.4" r="2.5"/><circle cx="135.7" cy="250.0" r="2.5"/><circle cx="135.7" cy="222.9" r="2.5"/><circle cx="136.0" cy="221.0" r="2.5"/><circle cx="135.2" cy="245.9" r="2.5"/><circle cx="136.6" cy="249.1" r="2.5"/><circle cx="136.7" cy="235.8" r="2.5"/><circle cx="136.4" cy="247.8" r="2.5"/><circle cx="137.0" cy="251.0" r="2.5"/><circle cx="136.2" cy="231.1" r="2.5"/><circle cx="136.3" cy="244.2" r="2.5"/><circle cx="136.8" cy="229.1" r="2.5"/><circle cx="136.3" cy="232.0" r="2.5"/><circle cx="136.0" cy="254.0" r="2.5"/><circle cx="136.1" cy="250.3" r="2.5"/><circle cx="137.5" cy="242.3" r="2.5"/><circle cx="137.0" cy="229.0" r="2.5"/><circle cx="137.8" cy="237.7" r="2.5"/><circle cx="137.5" cy="255.3" r="2.5"/><circle cx="137.3" cy="252.1" r="2.5"/><circle cx="137.2" cy="253.7" r="2.5"/><circle cx="137.0" cy="227.8" r="2.5"/><circle cx="137.1" cy="223.4" r="2.5"/><circle cx="138.5" cy="243.0" r="2.5"/><circle cx="138.7" cy="243.7" r="2.5"/><circle cx="138.3" cy="232.5" r="2.5"/><circle cx="138.3" cy="240.9" r="2.5"/><circle cx="138.2" cy="236.3" r="2.5"/><circle cx="138.9" cy="239.7" r="2.5"/><circle cx="138.1" cy="246.4" r="2.5"/><circle cx="138.4" cy="242.2" r="2.5"/><circle cx="138.6" cy="240.0" r="2.5"/><circle cx="138.4" cy="255.7" r="2.5"/><circle cx="138.2" cy="238.7" r="2.5"/><circle cx="138.1" cy="247.5" r="2.5"/><circle cx="138.4" cy="219.8" r="2.5"/><circle cx="139.6" cy="249.6" r="2.5"/><circle cx="139.3" cy="229.3" r="2.5"/><circle cx="139.1" cy="248.1" r="2.5"/><circle cx="139.1" cy="269.7" r="2.5"/><circle cx="139.3" cy="235.9" r="2.5"/><circle cx="139.2" cy="267.2" r="2.5"/><circle cx="139.6" cy="246.5" r="2.5"/><circle cx="139.4" cy="255.2" r="2.5"/><circle cx="140.9" cy="251.3" r="2.5"/><circle cx="140.5" cy="231.2" r="2.5"/><circle cx="140.2" cy="230.6" r="2.5"/><circle cx="140.7" cy="236.5" r="2.5"/><circle cx="140.2" cy="254.9" r="2.5"/><circle cx="140.8" cy="269.6" r="2.5"/><circle cx="140.6" cy="258.5" r="2.5"/><circle cx="140.7" cy="246.0" r="2.5"/><circle cx="140.8" cy="227.6" r="2.5"/><circle cx="140.2" cy="233.2" r="2.5"/><circle cx="141.3" cy="231.3" r="2.5"/><circle cx="141.9" cy="236.5" r="2.5"/><circle cx="141.9" cy="241.9" r="2.5"/><circle cx="141.1" cy="237.7" r="2.5"/><circle cx="141.8" cy="234.6" r="2.5"/><circle cx="141.3" cy="228.7" r="2.5"/><circle cx="141.5" cy="251.0" r="2.5"/><circle cx="141.0" cy="249.6" r="2.5"/><circle cx="141.6" cy="233.6" r="2.5"/><circle cx="141.0" cy="261.4" r="2.5"/><circle cx="141.5" cy="241.3" r="2.5"/><circle cx="141.6" cy="259.7" r="2.5"/><circle cx="141.7" cy="234.2" r="2.5"/><circle cx="141.3" cy="234.1" r="2.5"/><circle cx="141.5" cy="259.8" r="2.5"/><circle cx="141.0" cy="248.8" r="2.5"/><circle cx="141.8" cy="246.4" r="2.5"/><circle cx="141.4" cy="241.7" r="2.5"/><circle cx="142.9" cy="236.0" r="2.5"/><circle cx="142.8" cy="233.4" r="2.5"/><circle cx="142.5" cy="230.6" r="2.5"/><circle cx="142.3" cy="234.2" r="2.5"/><circle cx="142.1" cy="245.3" r="2.5"/><circle cx="142.4" cy="256.0" r="2.5"/><circle cx="142.9" cy="267.9" r="2.5"/><circle cx="142.6" cy="268.0" r="2.5"/><circle cx="142.9" cy="251.2" r="2.5"/><circle cx="142.1" cy="250.5" r="2.5"/><circle cx="142.5" cy="253.8" r="2.5"/><circle cx="143.7" cy="231.7" r="2.5"/><circle cx="143.4" cy="241.9" r="2.5"/><circle cx="143.8" cy="248.4" r="2.5"/><circle cx="143.6" cy="249.6" r="2.5"/><circle cx="143.3" cy="240.6" r="2.5"/><circle cx="143.5" cy="252.5" r="2.5"/><circle cx="144.0" cy="253.2" r="2.5"/><circle cx="143.8" cy="259.8" r="2.5"/><circle cx="143.2" cy="217.4" r="2.5"/><circle cx="143.1" cy="240.6" r="2.5"/><circle cx="144.0" cy="239.6" r="2.5"/><circle cx="143.9" cy="231.3" r="2.5"/><circle cx="143.1" cy="237.5" r="2.5"/><circle cx="144.1" cy="243.9" r="2.5"/><circle cx="145.0" cy="227.0" r="2.5"/><circle cx="144.8" cy="225.0" r="2.5"/><circle cx="144.1" cy="231.8" r="2.5"/><circle cx="145.0" cy="225.8" r="2.5"/><circle cx="144.5" cy="235.6" r="2.5"/><circle cx="144.2" cy="249.0" r="2.5"/><circle cx="144.1" cy="239.7" r="2.5"/><circle cx="144.1" cy="247.3" r="2.5"/><circle cx="144.9" cy="243.1" r="2.5"/><circle cx="144.2" cy="221.3" r="2.5"/><circle cx="144.5" cy="255.6" r="2.5"/><circle cx="144.8" cy="256.3" r="2.5"/><circle cx="144.5" cy="262.8" r="2.5"/><circle cx="144.5" cy="252.3" r="2.5"/><circle cx="145.6" cy="218.7" r="2.5"/><circle cx="145.7" cy="236.2" r="2.5"/><circle cx="145.2" cy="267.1" r="2.5"/><circle cx="146.8" cy="236.1" r="2.5"/><circle cx="146.3" cy="226.2" r="2.5"/><circle cx="146.2" cy="243.1" r="2.5"/><circle cx="147.0" cy="220.3" r="2.5"/><circle cx="146.2" cy="218.0" r="2.5"/><circle cx="146.7" cy="266.1" r="2.5"/><circle cx="146.6" cy="230.2" r="2.5"/><circle cx="147.0" cy="246.1" r="2.5"/><circle cx="147.3" cy="233.6" r="2.5"/><circle cx="147.8" cy="234.5" r="2.5"/><circle cx="147.3" cy="245.2" r="2.5"/><circle cx="147.6" cy="245.2" r="2.5"/><circle cx="147.2" cy="251.7" r="2.5"/><circle cx="147.1" cy="239.2" r="2.5"/><circle cx="147.9" cy="262.4" r="2.5"/><circle cx="147.6" cy="256.8" r="2.5"/><circle cx="147.7" cy="225.9" r="2.5"/><circle cx="147.9" cy="246.7" r="2.5"/><circle cx="148.8" cy="232.1" r="2.5"/><circle cx="148.5" cy="223.5" r="2.5"/><circle cx="148.6" cy="242.1" r="2.5"/><circle cx="148.2" cy="238.0" r="2.5"/><circle cx="148.1" cy="243.0" r="2.5"/><circle cx="148.7" cy="245.4" r="2.5"/><circle cx="148.8" cy="223.6" r="2.5"/><circle cx="148.1" cy="220.5" r="2.5"/><circle cx="148.7" cy="215.1" r="2.5"/><circle cx="149.2" cy="240.7" r="2.5"/><circle cx="149.5" cy="224.6" r="2.5"/><circle cx="150.0" cy="230.9" r="2.5"/><circle cx="149.6" cy="243.6" r="2.5"/><circle cx="149.7" cy="231.5" r="2.5"/><circle cx="149.2" cy="248.3" r="2.5"/><circle cx="149.8" cy="237.6" r="2.5"/><circle cx="149.1" cy="255.9" r="2.5"/><circle cx="149.5" cy="249.2" r="2.5"/><circle cx="149.1" cy="254.9" r="2.5"/><circle cx="149.4" cy="260.7" r="2.5"/><circle cx="150.3" cy="239.0" r="2.5"/><circle cx="150.0" cy="245.6" r="2.5"/><circle cx="150.9" cy="244.1" r="2.5"/><circle cx="150.6" cy="260.7" r="2.5"/><circle cx="150.3" cy="241.6" r="2.5"/><circle cx="150.8" cy="221.7" r="2.5"/><circle cx="151.2" cy="231.2" r="2.5"/><circle cx="151.2" cy="222.1" r="2.5"/><circle cx="151.6" cy="212.7" r="2.5"/><circle cx="151.5" cy="211.4" r="2.5"/><circle cx="151.9" cy="237.1" r="2.5"/><circle cx="152.3" cy="231.5" r="2.5"/><circle cx="152.7" cy="239.4" r="2.5"/><circle cx="152.6" cy="257.7" r="2.5"/><circle cx="152.1" cy="212.1" r="2.5"/><circle cx="152.7" cy="241.1" r="2.5"/><circle cx="152.3" cy="224.2" r="2.5"/><circle cx="153.2" cy="228.3" r="2.5"/><circle cx="153.7" cy="243.2" r="2.5"/><circle cx="153.4" cy="240.7" r="2.5"/><circle cx="153.5" cy="252.6" r="2.5"/><circle cx="154.0" cy="227.6" r="2.5"/><circle cx="153.1" cy="228.9" r="2.5"/><circle cx="154.2" cy="239.5" r="2.5"/><circle cx="154.7" cy="222.0" r="2.5"/><circle cx="154.6" cy="229.2" r="2.5"/><circle cx="154.1" cy="210.2" r="2.5"/><circle cx="154.7" cy="242.8" r="2.5"/><circle cx="154.5" cy="217.9" r="2.5"/><circle cx="155.6" cy="238.7" r="2.5"/><circle cx="155.2" cy="240.9" r="2.5"/><circle cx="155.9" cy="232.7" r="2.5"/><circle cx="155.7" cy="244.2" r="2.5"/><circle cx="155.2" cy="230.9" r="2.5"/><circle cx="155.3" cy="234.1" r="2.5"/><circle cx="155.8" cy="215.4" r="2.5"/><circle cx="155.6" cy="235.2" r="2.5"/><circle cx="156.4" cy="220.5" r="2.5"/><circle cx="156.8" cy="233.9" r="2.5"/><circle cx="156.2" cy="226.8" r="2.5"/><circle cx="156.1" cy="239.2" r="2.5"/><circle cx="156.5" cy="211.8" r="2.5"/><circle cx="156.2" cy="251.6" r="2.5"/><circle cx="156.6" cy="250.5" r="2.5"/><circle cx="156.7" cy="242.9" r="2.5"/><circle cx="156.2" cy="245.6" r="2.5"/><circle cx="156.1" cy="208.0" r="2.5"/><circle cx="156.3" cy="215.6" r="2.5"/><circle cx="157.8" cy="239.8" r="2.5"/><circle cx="157.7" cy="240.3" r="2.5"/><circle cx="157.9" cy="209.6" r="2.5"/><circle cx="157.1" cy="224.3" r="2.5"/><circle cx="157.3" cy="251.5" r="2.5"/><circle cx="157.0" cy="251.2" r="2.5"/><circle cx="158.0" cy="209.3" r="2.5"/><circle cx="158.0" cy="242.2" r="2.5"/><circle cx="157.1" cy="251.5" r="2.5"/><circle cx="157.1" cy="227.4" r="2.5"/><circle cx="158.4" cy="230.4" r="2.5"/><circle cx="158.5" cy="229.2" r="2.5"/><circle cx="158.5" cy="228.2" r="2.5"/><circle cx="158.7" cy="234.6" r="2.5"/><circle cx="158.9" cy="231.3" r="2.5"/><circle cx="158.1" cy="214.6" r="2.5"/><circle cx="158.4" cy="231.4" r="2.5"/><circle cx="158.8" cy="237.7" r="2.5"/><circle cx="158.2" cy="222.4" r="2.5"/><circle cx="158.5" cy="248.5" r="2.5"/><circle cx="158.7" cy="240.4" r="2.5"/><circle cx="159.1" cy="234.3" r="2.5"/><circle cx="159.7" cy="239.9" r="2.5"/><circle cx="159.4" cy="223.8" r="2.5"/><circle cx="159.5" cy="225.6" r="2.5"/><circle cx="160.4" cy="229.6" r="2.5"/><circle cx="160.8" cy="230.8" r="2.5"/><circle cx="160.1" cy="254.4" r="2.5"/><circle cx="160.9" cy="221.2" r="2.5"/><circle cx="161.9" cy="225.1" r="2.5"/><circle cx="161.1" cy="234.7" r="2.5"/><circle cx="161.9" cy="217.0" r="2.5"/><circle cx="161.5" cy="224.5" r="2.5"/><circle cx="162.7" cy="230.1" r="2.5"/><circle cx="162.9" cy="215.6" r="2.5"/><circle cx="162.4" cy="229.3" r="2.5"/><circle cx="162.1" cy="238.2" r="2.5"/><circle cx="162.6" cy="230.9" r="2.5"/><circle cx="162.9" cy="227.9" r="2.5"/><circle cx="162.9" cy="210.3" r="2.5"/><circle cx="162.2" cy="213.6" r="2.5"/><circle cx="162.2" cy="234.5" r="2.5"/><circle cx="162.1" cy="238.9" r="2.5"/><circle cx="162.9" cy="251.6" r="2.5"/><circle cx="162.1" cy="217.2" r="2.5"/><circle cx="162.4" cy="205.4" r="2.5"/><circle cx="162.7" cy="227.8" r="2.5"/><circle cx="163.9" cy="228.1" r="2.5"/><circle cx="163.3" cy="234.9" r="2.5"/><circle cx="163.8" cy="248.7" r="2.5"/><circle cx="163.3" cy="245.4" r="2.5"/><circle cx="164.5" cy="221.5" r="2.5"/><circle cx="164.6" cy="213.1" r="2.5"/><circle cx="164.5" cy="225.1" r="2.5"/><circle cx="164.6" cy="231.5" r="2.5"/><circle cx="165.0" cy="227.8" r="2.5"/><circle cx="164.3" cy="205.4" r="2.5"/><circle cx="164.8" cy="245.3" r="2.5"/><circle cx="164.1" cy="242.2" r="2.5"/><circle cx="164.1" cy="238.4" r="2.5"/><circle cx="164.5" cy="235.7" r="2.5"/><circle cx="165.3" cy="225.7" r="2.5"/><circle cx="165.7" cy="230.8" r="2.5"/><circle cx="165.4" cy="227.1" r="2.5"/><circle cx="165.6" cy="226.7" r="2.5"/><circle cx="165.7" cy="232.0" r="2.5"/><circle cx="165.9" cy="204.2" r="2.5"/><circle cx="165.6" cy="246.2" r="2.5"/><circle cx="166.0" cy="223.9" r="2.5"/><circle cx="165.5" cy="244.7" r="2.5"/><circle cx="165.9" cy="215.0" r="2.5"/><circle cx="166.0" cy="213.8" r="2.5"/><circle cx="166.1" cy="217.6" r="2.5"/><circle cx="166.7" cy="232.3" r="2.5"/><circle cx="166.4" cy="223.8" r="2.5"/><circle cx="166.7" cy="227.0" r="2.5"/><circle cx="166.7" cy="203.6" r="2.5"/><circle cx="167.6" cy="225.5" r="2.5"/><circle cx="167.9" cy="203.8" r="2.5"/><circle cx="167.0" cy="211.2" r="2.5"/><circle cx="167.4" cy="236.7" r="2.5"/><circle cx="167.5" cy="234.5" r="2.5"/><circle cx="167.8" cy="211.1" r="2.5"/><circle cx="168.5" cy="228.4" r="2.5"/><circle cx="168.9" cy="226.0" r="2.5"/><circle cx="168.6" cy="224.9" r="2.5"/><circle cx="168.2" cy="229.3" r="2.5"/><circle cx="168.8" cy="219.3" r="2.5"/><circle cx="168.6" cy="223.0" r="2.5"/><circle cx="168.4" cy="248.4" r="2.5"/><circle cx="169.9" cy="222.5" r="2.5"/><circle cx="169.4" cy="220.2" r="2.5"/><circle cx="169.5" cy="210.3" r="2.5"/><circle cx="169.2" cy="233.2" r="2.5"/><circle cx="169.8" cy="244.8" r="2.5"/><circle cx="169.2" cy="216.4" r="2.5"/><circle cx="169.2" cy="231.5" r="2.5"/><circle cx="169.3" cy="217.0" r="2.5"/><circle cx="169.1" cy="238.5" r="2.5"/><circle cx="170.8" cy="230.7" r="2.5"/><circle cx="170.4" cy="211.6" r="2.5"/><circle cx="171.0" cy="247.9" r="2.5"/><circle cx="170.2" cy="237.5" r="2.5"/><circle cx="170.6" cy="219.9" r="2.5"/><circle cx="170.6" cy="207.1" r="2.5"/><circle cx="170.4" cy="217.0" r="2.5"/><circle cx="170.7" cy="226.2" r="2.5"/><circle cx="170.0" cy="214.9" r="2.5"/><circle cx="171.6" cy="223.9" r="2.5"/><circle cx="171.5" cy="210.6" r="2.5"/><circle cx="171.1" cy="228.5" r="2.5"/><circle cx="171.8" cy="217.0" r="2.5"/><circle cx="171.2" cy="223.1" r="2.5"/><circle cx="171.8" cy="211.0" r="2.5"/><circle cx="171.2" cy="235.7" r="2.5"/><circle cx="171.1" cy="224.0" r="2.5"/><circle cx="171.7" cy="239.6" r="2.5"/><circle cx="172.9" cy="210.0" r="2.5"/><circle cx="172.9" cy="223.9" r="2.5"/><circle cx="172.9" cy="201.7" r="2.5"/><circle cx="172.6" cy="230.0" r="2.5"/><circle cx="172.9" cy="201.2" r="2.5"/><circle cx="173.3" cy="230.0" r="2.5"/><circle cx="173.1" cy="210.3" r="2.5"/><circle cx="173.5" cy="231.2" r="2.5"/><circle cx="173.1" cy="228.8" r="2.5"/><circle cx="173.2" cy="244.2" r="2.5"/><circle cx="173.6" cy="206.5" r="2.5"/><circle cx="175.0" cy="208.8" r="2.5"/><circle cx="174.4" cy="212.0" r="2.5"/><circle cx="175.0" cy="208.8" r="2.5"/><circle cx="174.3" cy="217.4" r="2.5"/><circle cx="174.1" cy="229.7" r="2.5"/><circle cx="174.2" cy="218.1" r="2.5"/><circle cx="174.6" cy="238.4" r="2.5"/><circle cx="174.2" cy="238.8" r="2.5"/><circle cx="175.0" cy="230.3" r="2.5"/><circle cx="175.2" cy="209.4" r="2.5"/><circle cx="175.4" cy="234.4" r="2.5"/><circle cx="175.2" cy="202.2" r="2.5"/><circle cx="175.9" cy="216.5" r="2.5"/><circle cx="175.6" cy="217.0" r="2.5"/><circle cx="175.7" cy="234.2" r="2.5"/><circle cx="175.2" cy="234.0" r="2.5"/><circle cx="175.3" cy="224.9" r="2.5"/><circle cx="176.8" cy="227.9" r="2.5"/><circle cx="176.2" cy="217.9" r="2.5"/><circle cx="176.9" cy="225.0" r="2.5"/><circle cx="176.8" cy="221.4" r="2.5"/><circle cx="176.4" cy="225.6" r="2.5"/><circle cx="176.4" cy="218.8" r="2.5"/><circle cx="176.1" cy="203.4" r="2.5"/><circle cx="177.7" cy="210.3" r="2.5"/><circle cx="177.1" cy="227.6" r="2.5"/><circle cx="177.3" cy="228.8" r="2.5"/><circle cx="177.6" cy="217.8" r="2.5"/><circle cx="177.8" cy="211.2" r="2.5"/><circle cx="177.2" cy="236.4" r="2.5"/><circle cx="177.5" cy="208.6" r="2.5"/><circle cx="178.6" cy="217.5" r="2.5"/><circle cx="178.0" cy="228.5" r="2.5"/><circle cx="178.3" cy="215.2" r="2.5"/><circle cx="178.9" cy="222.0" r="2.5"/><circle cx="178.7" cy="224.7" r="2.5"/><circle cx="178.7" cy="223.0" r="2.5"/><circle cx="179.7" cy="206.9" r="2.5"/><circle cx="179.3" cy="209.6" r="2.5"/><circle cx="179.0" cy="229.6" r="2.5"/><circle cx="179.1" cy="198.0" r="2.5"/><circle cx="179.3" cy="218.2" r="2.5"/><circle cx="179.2" cy="212.1" r="2.5"/><circle cx="180.8" cy="212.5" r="2.5"/><circle cx="180.3" cy="198.3" r="2.5"/><circle cx="180.5" cy="228.3" r="2.5"/><circle cx="181.3" cy="222.8" r="2.5"/><circle cx="181.2" cy="237.9" r="2.5"/><circle cx="181.2" cy="197.4" r="2.5"/><circle cx="182.3" cy="221.2" r="2.5"/><circle cx="182.8" cy="215.1" r="2.5"/><circle cx="182.1" cy="199.6" r="2.5"/><circle cx="182.8" cy="212.9" r="2.5"/><circle cx="182.1" cy="220.4" r="2.5"/><circle cx="183.4" cy="221.5" r="2.5"/><circle cx="183.7" cy="215.9" r="2.5"/><circle cx="183.2" cy="227.2" r="2.5"/><circle cx="183.9" cy="211.3" r="2.5"/><circle cx="183.4" cy="209.1" r="2.5"/><circle cx="183.7" cy="217.4" r="2.5"/><circle cx="184.8" cy="221.5" r="2.5"/><circle cx="184.1" cy="204.4" r="2.5"/><circle cx="184.4" cy="199.0" r="2.5"/><circle cx="184.4" cy="218.4" r="2.5"/><circle cx="186.0" cy="216.3" r="2.5"/><circle cx="185.1" cy="204.8" r="2.5"/><circle cx="185.4" cy="206.5" r="2.5"/><circle cx="186.8" cy="210.9" r="2.5"/><circle cx="186.9" cy="204.2" r="2.5"/><circle cx="186.1" cy="205.7" r="2.5"/><circle cx="187.0" cy="201.4" r="2.5"/><circle cx="186.8" cy="215.1" r="2.5"/><circle cx="186.3" cy="212.3" r="2.5"/><circle cx="186.1" cy="198.9" r="2.5"/><circle cx="187.5" cy="218.0" r="2.5"/><circle cx="187.6" cy="210.4" r="2.5"/><circle cx="187.5" cy="221.6" r="2.5"/><circle cx="188.1" cy="203.3" r="2.5"/><circle cx="188.4" cy="213.2" r="2.5"/><circle cx="188.8" cy="196.7" r="2.5"/><circle cx="188.2" cy="200.3" r="2.5"/><circle cx="189.7" cy="220.1" r="2.5"/><circle cx="189.5" cy="228.3" r="2.5"/><circle cx="189.5" cy="199.3" r="2.5"/><circle cx="190.5" cy="209.1" r="2.5"/><circle cx="191.0" cy="223.7" r="2.5"/><circle cx="192.0" cy="208.4" r="2.5"/><circle cx="191.6" cy="201.6" r="2.5"/><circle cx="192.9" cy="199.4" r="2.5"/><circle cx="193.0" cy="222.0" r="2.5"/><circle cx="194.9" cy="212.4" r="2.5"/><circle cx="194.9" cy="214.9" r="2.5"/><circle cx="194.6" cy="211.6" r="2.5"/><circle cx="194.2" cy="206.0" r="2.5"/><circle cx="194.1" cy="207.2" r="2.5"/><circle cx="194.9" cy="197.1" r="2.5"/><circle cx="195.6" cy="213.4" r="2.5"/><circle cx="195.7" cy="200.2" r="2.5"/><circle cx="195.5" cy="194.1" r="2.5"/><circle cx="196.1" cy="209.6" r="2.5"/><circle cx="196.2" cy="205.9" r="2.5"/><circle cx="196.4" cy="214.8" r="2.5"/><circle cx="197.8" cy="211.4" r="2.5"/><circle cx="197.3" cy="209.0" r="2.5"/><circle cx="198.7" cy="206.3" r="2.5"/><circle cx="200.9" cy="213.8" r="2.5"/><circle cx="201.8" cy="213.0" r="2.5"/><circle cx="202.7" cy="213.4" r="2.5"/><circle cx="203.7" cy="203.3" r="2.5"/><circle cx="204.2" cy="211.0" r="2.5"/><circle cx="207.2" cy="196.2" r="2.5"/><circle cx="208.6" cy="204.3" r="2.5"/><circle cx="210.9" cy="208.2" r="2.5"/><circle cx="213.5" cy="200.2" r="2.5"/><circle cx="415.3" cy="92.0" r="2.5"/><circle cx="425.6" cy="98.4" r="2.5"/><circle cx="352.9" cy="114.4" r="2.5"/><circle cx="379.1" cy="107.6" r="2.5"/><circle cx="389.3" cy="105.3" r="2.5"/><circle cx="393.3" cy="106.2" r="2.5"/><circle cx="400.0" cy="105.1" r="2.5"/><circle cx="388.4" cy="112.2" r="2.5"/><circle cx="393.6" cy="114.7" r="2.5"/><circle cx="382.2" cy="120.2" r="2.5"/><circle cx="368.2" cy="126.4" r="2.5"/><circle cx="378.2" cy="131.6" r="2.5"/><circle cx="307.5" cy="130.8" r="2.5"/><circle cx="296.2" cy="140.0" r="2.5"/><circle cx="287.0" cy="140.0" r="2.5"/><circle cx="288.2" cy="139.4" r="2.5"/><circle cx="312.2" cy="149.2" r="2.5"/><circle cx="329.2" cy="154.2" r="2.5"/><circle cx="290.0" cy="151.7" r="2.5"/><circle cx="290.0" cy="157.5" r="2.5"/><circle cx="290.3" cy="163.5" r="2.5"/><circle cx="305.5" cy="172.8" r="2.5"/><circle cx="319.7" cy="168.8" r="2.5"/><circle cx="253.4" cy="155.2" r="2.5"/><circle cx="261.5" cy="152.6" r="2.5"/><circle cx="268.6" cy="152.1" r="2.5"/><circle cx="273.1" cy="148.9" r="2.5"/><circle cx="261.5" cy="158.6" r="2.5"/><circle cx="250.9" cy="161.7" r="2.5"/><circle cx="257.8" cy="161.0" r="2.5"/><circle cx="245.3" cy="164.0" r="2.5"/><circle cx="259.3" cy="163.3" r="2.5"/><circle cx="237.2" cy="169.5" r="2.5"/><circle cx="242.0" cy="170.5" r="2.5"/><circle cx="257.1" cy="170.5" r="2.5"/><circle cx="263.4" cy="172.9" r="2.5"/><circle cx="236.6" cy="180.0" r="2.5"/><circle cx="247.8" cy="177.9" r="2.5"/><circle cx="246.6" cy="179.4" r="2.5"/><circle cx="245.3" cy="181.7" r="2.5"/><circle cx="249.1" cy="187.2" r="2.5"/><circle cx="255.0" cy="184.8" r="2.5"/><circle cx="259.6" cy="183.4" r="2.5"/><circle cx="273.3" cy="185.6" r="2.5"/><circle cx="240.0" cy="195.6" r="2.5"/><circle cx="241.6" cy="194.6" r="2.5"/><circle cx="179.9" cy="242.1" r="2.5"/><circle cx="195.4" cy="242.1" r="2.5"/><circle cx="193.0" cy="239.9" r="2.5"/><circle cx="190.3" cy="236.7" r="2.5"/><circle cx="174.9" cy="253.9" r="2.5"/><circle cx="161.2" cy="262.3" r="2.5"/><circle cx="176.2" cy="273.8" r="2.5"/><circle cx="230.6" cy="213.7" r="2.5"/><circle cx="221.1" cy="210.7" r="2.5"/><circle cx="89.8" cy="230.7" r="2.5"/><circle cx="93.5" cy="239.2" r="2.5"/><circle cx="85.2" cy="245.6" r="2.5"/><circle cx="91.0" cy="250.4" r="2.5"/><circle cx="81.9" cy="254.1" r="2.5"/><circle cx="82.9" cy="255.6" r="2.5"/><circle cx="80.4" cy="259.3" r="2.5"/><circle cx="85.4" cy="258.7" r="2.5"/><circle cx="93.5" cy="258.7" r="2.5"/><circle cx="90.4" cy="261.8" r="2.5"/><circle cx="105.1" cy="248.7" r="2.5"/><circle cx="113.4" cy="241.9" r="2.5"/><circle cx="123.7" cy="233.8" r="2.5"/><circle cx="142.7" cy="270.6" r="2.5"/><circle cx="146.4" cy="271.8" r="2.5"/><circle cx="131.5" cy="269.7" r="2.5"/><circle cx="126.5" cy="267.9" r="2.5"/><circle cx="148.3" cy="264.1" r="2.5"/><circle cx="154.5" cy="262.9" r="2.5"/><circle cx="170.6" cy="240.5" r="2.5"/><circle cx="163.8" cy="248.6" r="2.5"/><circle cx="158.8" cy="254.2" r="2.5"/><circle cx="153.9" cy="257.9" r="2.5"/><circle cx="140.2" cy="261.6" r="2.5"/><circle cx="137.1" cy="260.6" r="2.5"/><circle cx="167.5" cy="243.6" r="2.5"/><circle cx="226.6" cy="205.3" r="2.5"/><circle cx="231.6" cy="200.4" r="2.5"/><circle cx="232.2" cy="196.6" r="2.5"/><circle cx="213.6" cy="203.5" r="2.5"/><circle cx="218.6" cy="202.2" r="2.5"/><circle cx="219.8" cy="199.7" r="2.5"/><circle cx="223.5" cy="201.0" r="2.5"/><circle cx="213.6" cy="197.2" r="2.5"/><circle cx="208.0" cy="198.5" r="2.5"/><circle cx="203.6" cy="207.8" r="2.5"/><circle cx="208.6" cy="209.7" r="2.5"/><circle cx="213.0" cy="211.5" r="2.5"/><circle cx="213.6" cy="213.4" r="2.5"/><circle cx="203.0" cy="218.4" r="2.5"/><circle cx="204.9" cy="219.0" r="2.5"/><circle cx="198.7" cy="216.5" r="2.5"/><circle cx="193.1" cy="222.1" r="2.5"/><circle cx="193.7" cy="218.4" r="2.5"/><circle cx="187.5" cy="214.7" r="2.5"/><circle cx="192.4" cy="212.2" r="2.5"/><circle cx="197.4" cy="206.0" r="2.5"/><circle cx="199.9" cy="203.5" r="2.5"/><circle cx="183.7" cy="222.1" r="2.5"/><circle cx="185.0" cy="225.9" r="2.5"/><circle cx="181.2" cy="230.8" r="2.5"/><circle cx="231.6" cy="164.2" r="2.5"/><circle cx="222.9" cy="170.1" r="2.5"/><circle cx="228.5" cy="171.3" r="2.5"/><circle cx="232.9" cy="175.1" r="2.5"/><circle cx="227.3" cy="176.3" r="2.5"/><circle cx="221.0" cy="176.3" r="2.5"/><circle cx="216.1" cy="178.2" r="2.5"/><circle cx="209.9" cy="176.9" r="2.5"/><circle cx="213.0" cy="181.9" r="2.5"/><circle cx="217.3" cy="182.5" r="2.5"/><circle cx="222.9" cy="180.7" r="2.5"/><circle cx="226.6" cy="181.3" r="2.5"/><circle cx="232.2" cy="181.3" r="2.5"/><circle cx="209.2" cy="186.3" r="2.5"/><circle cx="213.6" cy="186.9" r="2.5"/><circle cx="219.8" cy="186.3" r="2.5"/><circle cx="223.5" cy="188.7" r="2.5"/><circle cx="229.8" cy="186.9" r="2.5"/><circle cx="234.1" cy="188.7" r="2.5"/><circle cx="219.8" cy="191.9" r="2.5"/><circle cx="226.0" cy="191.2" r="2.5"/><circle cx="231.6" cy="195.6" r="2.5"/><circle cx="206.7" cy="190.6" r="2.5"/><circle cx="200.9" cy="183.1" r="2.5"/><circle cx="201.8" cy="188.1" r="2.5"/><circle cx="194.9" cy="188.1" r="2.5"/><circle cx="186.2" cy="189.1" r="2.5"/><circle cx="191.8" cy="191.9" r="2.5"/><circle cx="197.4" cy="192.5" r="2.5"/><circle cx="202.4" cy="193.7" r="2.5"/><circle cx="183.7" cy="195.6" r="2.5"/><circle cx="188.7" cy="196.8" r="2.5"/><circle cx="193.7" cy="196.2" r="2.5"/><circle cx="198.7" cy="198.1" r="2.5"/><circle cx="203.6" cy="199.3" r="2.5"/><circle cx="182.5" cy="201.8" r="2.5"/><circle cx="187.5" cy="201.8" r="2.5"/><circle cx="192.4" cy="201.8" r="2.5"/><circle cx="197.4" cy="201.8" r="2.5"/><circle cx="177.2" cy="195.3" r="2.5"/><circle cx="165.5" cy="203.8" r="2.5"/><circle cx="173.8" cy="202.8" r="2.5"/><circle cx="271.7" cy="210.1" r="2.5"/><circle cx="210.2" cy="177.3" r="2.5"/><circle cx="216.0" cy="177.8" r="2.5"/><circle cx="221.3" cy="176.9" r="2.5"/><circle cx="226.2" cy="178.2" r="2.5"/><circle cx="232.0" cy="176.9" r="2.5"/><circle cx="200.4" cy="183.1" r="2.5"/><circle cx="209.3" cy="182.7" r="2.5"/><circle cx="213.8" cy="181.8" r="2.5"/><circle cx="218.7" cy="182.7" r="2.5"/><circle cx="222.7" cy="181.3" r="2.5"/><circle cx="227.1" cy="183.1" r="2.5"/><circle cx="233.3" cy="182.2" r="2.5"/><circle cx="196.9" cy="187.1" r="2.5"/><circle cx="201.3" cy="188.0" r="2.5"/><circle cx="208.4" cy="188.4" r="2.5"/><circle cx="212.0" cy="186.7" r="2.5"/><circle cx="216.4" cy="185.8" r="2.5"/><circle cx="220.0" cy="187.6" r="2.5"/><circle cx="225.3" cy="188.4" r="2.5"/><circle cx="230.7" cy="185.3" r="2.5"/><circle cx="233.3" cy="188.9" r="2.5"/><circle cx="204.9" cy="192.9" r="2.5"/><circle cx="211.1" cy="190.7" r="2.5"/><circle cx="220.0" cy="191.6" r="2.5"/><circle cx="224.4" cy="190.7" r="2.5"/><circle cx="229.3" cy="190.2" r="2.5"/><circle cx="235.1" cy="192.0" r="2.5"/><circle cx="197.8" cy="195.6" r="2.5"/><circle cx="202.2" cy="197.3" r="2.5"/><circle cx="213.8" cy="197.3" r="2.5"/><circle cx="221.8" cy="196.4" r="2.5"/><circle cx="226.7" cy="194.2" r="2.5"/><circle cx="231.6" cy="196.0" r="2.5"/><circle cx="207.1" cy="199.1" r="2.5"/><circle cx="213.8" cy="202.7" r="2.5"/><circle cx="219.1" cy="200.4" r="2.5"/><circle cx="223.6" cy="199.6" r="2.5"/><circle cx="227.6" cy="204.4" r="2.5"/><circle cx="231.6" cy="200.0" r="2.5"/><circle cx="198.2" cy="202.7" r="2.5"/><circle cx="203.1" cy="203.6" r="2.5"/></g><!--/PTS-->
<line x1="68.5" y1="288.5" x2="441.5" y2="42.5" stroke="#1e1e1e" stroke-width="1"/>
</svg>
<div class="t" style="left:46px;top:7px;font-weight:bold;font-size:13px;line-height:15px;letter-spacing:-0.035px">PM2.5 Regression Predicted Concentrations vs. Reference</div>
<div class="t" style="left:175.5px;top:22px;font-weight:bold;font-size:13px;line-height:15px">Concentrations</div>
<div class="t" style="right:390.7px;top:40px;font-size:12px;line-height:14px">80</div>
<div class="t" style="right:390.7px;top:99px;font-size:12px;line-height:14px">60</div>
<div class="t" style="right:390.7px;top:158px;font-size:12px;line-height:14px">40</div>
<div class="t" style="right:390.7px;top:217px;font-size:12px;line-height:14px">20</div>
<div class="t" style="right:390.7px;top:276px;font-size:12px;line-height:14px">0</div>
<div class="t" style="left:70px;width:7px;text-align:center;top:297px;font-size:12px;line-height:14px">0</div>
<div class="t" style="left:144.5px;width:40px;text-align:center;top:297px;font-size:12px;line-height:14px">20</div>
<div class="t" style="left:235px;width:40px;text-align:center;top:297px;font-size:12px;line-height:14px">40</div>
<div class="t" style="left:325.5px;width:40px;text-align:center;top:297px;font-size:12px;line-height:14px">60</div>
<div class="t" style="left:416.5px;width:40px;text-align:center;top:297px;font-size:12px;line-height:14px">80</div>
<div class="t" style="left:138px;top:316px;font-size:12px;line-height:14px">State Monitor Hourly Average PM2.5 (µg/m³)</div>
<div class="t" style="left:9px;top:56px;width:27px;height:220px;writing-mode:sideways-lr;font-size:12px;line-height:13.5px;text-align:center">Regression Predicted Hourly Average<br>PM2.5 (µg/m³)</div>
</body></html>
